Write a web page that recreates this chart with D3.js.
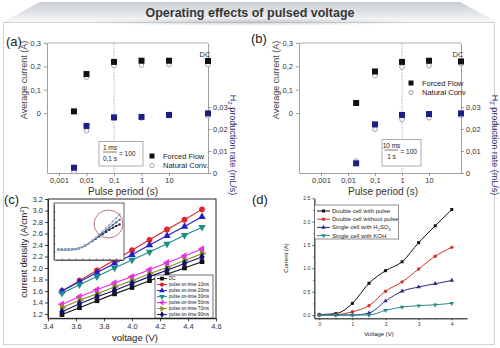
<!DOCTYPE html>
<html>
<head>
<meta charset="utf-8">
<script src="https://cdn.jsdelivr.net/npm/d3@7"></script>
<style>
body { margin: 0; background: #fff; }
svg { display: block; font-family: "Liberation Sans", Arial, sans-serif; }
</style>
</head>
<body>
<div id="chart"></div>
<script>
// Panel (a) - 1 ms on-time
var periodsA = [0.0035, 0.01, 0.1, 1, 10, "DC"];
var curForcedA = [0.007, 0.167, 0.219, 0.224, 0.224, 0.223];
var curNaturalA = [null, 0.153, 0.203, 0.205, 0.207, 0.207];
var h2ForcedA = [0.0024, 0.0214, 0.0253, 0.0255, 0.0264, 0.0271];
var h2NaturalA = [0.0006, 0.0192, 0.0248, 0.025, 0.026, 0.026];

// Panel (b) - 10 ms on-time
var periodsB = [0.02, 0.1, 1, 10, "DC"];
var curForcedB = [0.043, 0.178, 0.219, 0.224, 0.221];
var curNaturalB = [null, 0.16, 0.197, 0.203, 0.211];
var h2ForcedB = [0.0044, 0.0221, 0.0264, 0.0268, 0.0271];
var h2NaturalB = [0.0055, 0.0199, 0.0244, 0.0251, 0.0262];

var periodTicks = [0.001, 0.01, 0.1, 1, 10];
var currentTicks = [0, 0.1, 0.2, 0.3];
var h2Ticks = [0, 0.01, 0.02, 0.03];

// Panel (c) - current density vs voltage
var voltC = [3.5, 3.625, 3.75, 3.875, 4.0, 4.125, 4.25, 4.375, 4.5];
var seriesC = ["DC", "pulse on-time 10ms", "pulse on-time 20ms", "pulse on-time 30ms",
               "pulse on-time 50ms", "pulse on-time 70ms", "pulse on-time 90ms"];
var densDC   = [1.19, 1.31, 1.43, 1.55, 1.66, 1.78, 1.89, 2.00, 2.11];
var dens10ms = [1.60, 1.78, 1.96, 2.14, 2.31, 2.49, 2.67, 2.84, 3.02];
var dens20ms = [1.60, 1.76, 1.92, 2.08, 2.23, 2.40, 2.56, 2.72, 2.89];
var dens30ms = [1.56, 1.71, 1.85, 2.00, 2.14, 2.28, 2.42, 2.57, 2.71];
var dens50ms = [1.37, 1.50, 1.62, 1.74, 1.85, 1.97, 2.09, 2.21, 2.33];
var dens70ms = [1.31, 1.44, 1.55, 1.67, 1.78, 1.90, 2.01, 2.13, 2.25];
var dens90ms = [1.24, 1.38, 1.50, 1.61, 1.73, 1.85, 1.96, 2.08, 2.19];
var voltTicksC = [3.4, 3.6, 3.8, 4.0, 4.2, 4.4, 4.6];
var densTicksC = [1.2, 1.4, 1.6, 1.8, 2.0, 2.2, 2.4, 2.6, 2.8, 3.0, 3.2];

// inset of (c): full sweep
var insetV = [0.25, 0.5, 0.75, 1.0, 1.25, 1.5, 1.75, 2.0, 2.25, 2.5, 2.75, 3.0, 3.25, 3.5, 3.75, 4.0, 4.25, 4.5, 4.75];
var insetHigh = [0.6, 0.6, 0.6, 0.6, 0.61, 0.63, 0.68, 0.76, 0.88, 1.02, 1.18, 1.36, 1.55, 1.75, 1.96, 2.17, 2.39, 2.6, 2.82];
var insetMid  = [0.6, 0.6, 0.6, 0.6, 0.61, 0.63, 0.68, 0.76, 0.88, 1.01, 1.16, 1.32, 1.49, 1.66, 1.83, 2.0, 2.17, 2.33, 2.5];
var insetLow  = [0.6, 0.6, 0.6, 0.6, 0.61, 0.63, 0.68, 0.76, 0.87, 1.0, 1.14, 1.29, 1.44, 1.58, 1.72, 1.86, 1.99, 2.1, 2.2];

// Panel (d) - current vs voltage for cells
var voltD = [0, 0.5, 1, 1.5, 2, 2.5, 3, 3.5, 4];
var seriesD = ["Double cell with pulse", "Double cell without pulse", "Single cell with H2SO4", "Single cell with KOH"];
var curDoublePulse = [0.01, 0.03, 0.25, 0.68, 0.95, 1.14, 1.55, 1.91, 2.26];
var curDoubleNoPulse = [0.01, 0.01, 0.07, 0.2, 0.51, 0.71, 0.985, 1.26, 1.45];
var curSingleH2SO4 = [0.0, 0.0, 0.0, 0.04, 0.3, 0.51, 0.6, 0.67, 0.74];
var curSingleKOH = [0.0, 0.0, 0.0, 0.0, 0.1, 0.17, 0.2, 0.22, 0.25];
var voltTicksD = [0, 1, 2, 3, 4];
var curTicksD = [0, 0.5, 1.0, 1.5, 2.0, 2.5];

var W = 500, H = 348;
var svg = d3.select("#chart").append("svg")
    .attr("width", W)
    .attr("height", H);

var defs = svg.append("defs");
var grad = defs.append("linearGradient").attr("id", "banner")
    .attr("x1", 0).attr("y1", 0).attr("x2", 0).attr("y2", 1);
grad.append("stop").attr("offset", "0%").attr("stop-color", "#c9cdd3");
grad.append("stop").attr("offset", "100%").attr("stop-color", "#f7f8f9");
var shade = defs.append("radialGradient").attr("id", "shade");
shade.append("stop").attr("offset", "0%").attr("stop-color", "#9aa0a8").attr("stop-opacity", 0.55);
shade.append("stop").attr("offset", "100%").attr("stop-color", "#9aa0a8").attr("stop-opacity", 0);

// frame + banner
svg.append("rect")
    .attr("x", 3.5).attr("y", 22.5).attr("width", 491).attr("height", 322)
    .attr("fill", "#fff").attr("stroke", "#d2d2d2");
svg.append("path")
    .attr("d", "M40,2 L460,2 L497,22 L3,22 Z")
    .attr("fill", "url(#banner)");
svg.append("ellipse")
    .attr("cx", 250).attr("cy", 22).attr("rx", 170).attr("ry", 4)
    .attr("fill", "url(#shade)");
svg.append("text")
    .attr("x", 250).attr("y", 17)
    .attr("text-anchor", "middle")
    .attr("font-size", 12.5).attr("font-weight", "bold")
    .attr("fill", "#383838")
    .text("Operating effects of pulsed voltage");

function commaFmt(d) { return String(d).replace(".", ","); }

function styleAxis(sel, col, fs) {
    sel.selectAll("path, line").attr("stroke", col).attr("stroke-width", 0.8);
    sel.selectAll("text").attr("fill", "#333").attr("font-size", fs)
        .attr("font-family", "Liberation Sans, Arial, sans-serif");
}

function pulsePanel(cfg) {
    var g = svg.append("g");
    var top = 43, bottom = 173;
    var x = d3.scaleLog().domain(cfg.xDomain).range([cfg.left, cfg.right]);
    var yC = d3.scaleLinear().domain([-0.257, 0.3]).range([bottom, top]);
    var yH = d3.scaleLinear().domain([0, 0.0591]).range([bottom, top]);
    var px = function(p) { return p === "DC" ? cfg.right : x(p); };

    g.append("line")
        .attr("x1", cfg.left).attr("x2", cfg.right).attr("y1", top).attr("y2", top)
        .attr("stroke", "#999").attr("stroke-width", 0.8);
    g.append("line")
        .attr("x1", x(cfg.dotAt)).attr("x2", x(cfg.dotAt)).attr("y1", top).attr("y2", bottom)
        .attr("stroke", "#999").attr("stroke-width", 0.8).attr("stroke-dasharray", "1.2,1.2");

    g.append("g").attr("transform", "translate(" + cfg.left + ",0)")
        .call(d3.axisLeft(yC).tickValues(currentTicks).tickFormat(commaFmt).tickSize(3).tickSizeOuter(0).tickPadding(3))
        .call(styleAxis, "#888", 7.5);
    g.append("g").attr("transform", "translate(" + cfg.right + ",0)")
        .call(d3.axisRight(yH).tickValues(h2Ticks).tickFormat(commaFmt).tickSize(3).tickSizeOuter(0).tickPadding(2))
        .call(styleAxis, "#888", 7.5);
    g.append("g").attr("transform", "translate(0," + bottom + ")")
        .call(d3.axisBottom(x).tickValues(periodTicks).tickFormat(commaFmt).tickSize(3).tickSizeOuter(0).tickPadding(1.5))
        .call(styleAxis, "#888", 7.5);

    g.append("text")
        .attr("transform", "translate(" + cfg.yTitleX + ",80) rotate(-90)")
        .attr("text-anchor", "middle").attr("font-size", 9).attr("fill", "#444")
        .text("Average current (A)");
    var h2t = g.append("text")
        .attr("transform", "translate(" + cfg.h2TitleX + ",145) rotate(90)")
        .attr("text-anchor", "middle").attr("font-size", 9).attr("fill", "#2b2b78");
    h2t.append("tspan").text("H");
    h2t.append("tspan").attr("font-size", 6).attr("dy", 2).text("2");
    h2t.append("tspan").attr("dy", -2).text(" production rate (mL/s)");

    g.append("text")
        .attr("x", cfg.xTitleX).attr("y", 195)
        .attr("text-anchor", "middle").attr("font-size", 10).attr("fill", "#333")
        .text("Pulse period (s)");

    g.append("text").attr("x", cfg.right - 3).attr("y", 57)
        .attr("text-anchor", "middle").attr("font-size", 7.5).attr("fill", "#333").text("DC");

    var idx = d3.range(cfg.periods.length);
    // open circles first (behind)
    [cfg.curNat, cfg.h2Nat].forEach(function(vals, k) {
        var ys = k === 0 ? yC : yH;
        g.selectAll(null).data(idx.filter(function(i) { return vals[i] != null; }))
            .enter().append("circle")
            .attr("cx", function(i) { return px(cfg.periods[i]); })
            .attr("cy", function(i) { return ys(vals[i]); })
            .attr("r", 2.3)
            .attr("fill", "#fff").attr("stroke", "#9a9a9a").attr("stroke-width", 0.9);
    });
    [[cfg.curForced, yC, "#111"], [cfg.h2Forced, yH, "#1d1d86"]].forEach(function(s) {
        g.selectAll(null).data(idx.filter(function(i) { return s[0][i] != null; }))
            .enter().append("rect")
            .attr("x", function(i) { return px(cfg.periods[i]) - 3; })
            .attr("y", function(i) { return s[1](s[0][i]) - 3; })
            .attr("width", 6).attr("height", 6)
            .attr("fill", s[2]);
    });

    // ratio box
    var b = cfg.ratio;
    g.append("rect").attr("x", b.x).attr("y", b.y).attr("width", b.w).attr("height", b.h)
        .attr("fill", "#fff").attr("stroke", "#999").attr("stroke-width", 0.8);
    g.append("text").attr("x", b.fx).attr("y", b.y + 8.5).attr("text-anchor", "middle")
        .attr("font-size", 6.5).attr("fill", "#222").text(b.num);
    g.append("line").attr("x1", b.fx - 7).attr("x2", b.fx + 7).attr("y1", b.y + 10.5).attr("y2", b.y + 10.5)
        .attr("stroke", "#222").attr("stroke-width", 0.6);
    g.append("text").attr("x", b.fx).attr("y", b.y + 19).attr("text-anchor", "middle")
        .attr("font-size", 6.5).attr("fill", "#222").text(b.den);
    g.append("text").attr("x", b.fx + 9).attr("y", b.y + 14).attr("font-size", 6.5).attr("fill", "#222").text("= 100");

    // legend
    var L = cfg.legend;
    g.append("rect").attr("x", L.x - 2.5).attr("y", L.y - 2.5).attr("width", 5).attr("height", 5).attr("fill", "#111");
    g.append("circle").attr("cx", L.x).attr("cy", L.y + 9.5).attr("r", 2.2)
        .attr("fill", "#fff").attr("stroke", "#9a9a9a").attr("stroke-width", 0.9);
    g.append("text").attr("x", L.x + 11).attr("y", L.y + 2.5).attr("font-size", 7.5).attr("fill", "#222").text("Forced Flow");
    g.append("text").attr("x", L.x + 11).attr("y", L.y + 12).attr("font-size", 7.5).attr("fill", "#222").text(L.nat);

    svg.append("text").attr("x", cfg.labX).attr("y", cfg.labY)
        .attr("font-size", 13).attr("fill", "#222").text(cfg.label);
}

pulsePanel({
    label: "(a)", labX: 6, labY: 46,
    left: 47, right: 208, xDomain: [Math.pow(10, -3.436), Math.pow(10, 2.418)], dotAt: 0.1,
    periods: periodsA, curForced: curForcedA, curNat: curNaturalA, h2Forced: h2ForcedA, h2Nat: h2NaturalA,
    yTitleX: 27, h2TitleX: 230, xTitleX: 123,
    ratio: { x: 99, y: 141.5, w: 44, h: 24.5, fx: 110, num: "1 ms", den: "0,1 s" },
    legend: { x: 152, y: 156, nat: "Natural Conv." }
});
pulsePanel({
    label: "(b)", labX: 251, labY: 43,
    left: 299, right: 461, xDomain: [Math.pow(10, -3.815), Math.pow(10, 2.185)], dotAt: 1,
    periods: periodsB, curForced: curForcedB, curNat: curNaturalB, h2Forced: h2ForcedB, h2Nat: h2NaturalB,
    yTitleX: 279, h2TitleX: 492, xTitleX: 383,
    ratio: { x: 382, y: 139.5, w: 39, h: 26.5, fx: 391.5, num: "10 ms", den: "1 s" },
    legend: { x: 411, y: 83, nat: "Natural Conv" }
});

// ---------- panel (c) ----------
var gc = svg.append("g");
var xC = d3.scaleLinear().domain([3.4, 4.6]).range([48, 216]);
var yCd = d3.scaleLinear().domain([1.125, 3.2]).range([318.3, 199]);
var colorsC = ["#111111", "#e3232b", "#2020c8", "#1a8c8c", "#e830e8", "#8c8c22", "#10106a"];
var valsC = [densDC, dens10ms, dens20ms, dens30ms, dens50ms, dens70ms, dens90ms];
var shapesC = [
    { t: d3.symbolSquare, r: 0, s: 22 },
    { t: d3.symbolCircle, r: 0, s: 26 },
    { t: d3.symbolTriangle, r: 0, s: 24 },
    { t: d3.symbolTriangle, r: 180, s: 24 },
    { t: d3.symbolTriangle, r: -90, s: 24 },
    { t: d3.symbolTriangle, r: 90, s: 24 },
    { t: d3.symbolDiamond, r: 0, s: 24 }
];

gc.append("rect").attr("x", 48).attr("y", 199).attr("width", 168).attr("height", 119.3)
    .attr("fill", "none").attr("stroke", "#111").attr("stroke-width", 0.9);
gc.append("g").attr("transform", "translate(48,0)")
    .call(d3.axisLeft(yCd).tickValues(densTicksC).tickFormat(d3.format(".1f")).tickSize(3).tickSizeOuter(0).tickPadding(2))
    .call(styleAxis, "#111", 7.5);
gc.append("g").attr("transform", "translate(0,318.3)")
    .call(d3.axisBottom(xC).tickValues(voltTicksC).tickFormat(d3.format(".1f")).tickSize(3).tickSizeOuter(0).tickPadding(2))
    .call(styleAxis, "#111", 7.5);
var yt = gc.append("text").attr("transform", "translate(27,252) rotate(-90)")
    .attr("text-anchor", "middle").attr("font-size", 9).attr("fill", "#222");
yt.append("tspan").text("current density (A/cm");
yt.append("tspan").attr("font-size", 6).attr("dy", -3).text("2");
yt.append("tspan").attr("dy", 3).text(")");
gc.append("text").attr("x", 135).attr("y", 341).attr("text-anchor", "middle")
    .attr("font-size", 9.5).attr("fill", "#222").text("voltage (V)");

var lineC = d3.line().x(function(d) { return xC(d[0]); }).y(function(d) { return yCd(d[1]); });
valsC.forEach(function(vals, k) {
    var pts = voltC.map(function(v, i) { return [v, vals[i]]; });
    gc.append("path").attr("d", lineC(pts)).attr("fill", "none")
        .attr("stroke", colorsC[k]).attr("stroke-width", 1.1);
    var sh = shapesC[k];
    gc.selectAll(null).data(pts).enter().append("path")
        .attr("d", d3.symbol().type(sh.t).size(sh.s))
        .attr("transform", function(d) { return "translate(" + xC(d[0]) + "," + yCd(d[1]) + ") rotate(" + sh.r + ")"; })
        .attr("fill", colorsC[k]);
});

// legend (c)
gc.append("rect").attr("x", 155).attr("y", 275).attr("width", 58).attr("height", 43)
    .attr("fill", "#fff").attr("stroke", "#111").attr("stroke-width", 0.6);
seriesC.forEach(function(name, k) {
    var ly = 278.6 + k * 6;
    gc.append("line").attr("x1", 157).attr("x2", 167).attr("y1", ly).attr("y2", ly)
        .attr("stroke", colorsC[k]).attr("stroke-width", 1);
    var sh = shapesC[k];
    gc.append("path").attr("d", d3.symbol().type(sh.t).size(14))
        .attr("transform", "translate(162," + ly + ") rotate(" + sh.r + ")")
        .attr("fill", colorsC[k]);
    gc.append("text").attr("x", 169).attr("y", ly + 1.6).attr("font-size", 4.6).attr("fill", "#111").text(name);
});

// inset (c)
var xI = d3.scaleLinear().domain([0, 5]).range([55, 123]);
var yI = d3.scaleLinear().domain([0, 3.5]).range([259, 204]);
gc.append("rect").attr("x", 54).attr("y", 203).attr("width", 70).attr("height", 57)
    .attr("fill", "#fff").attr("stroke", "#222").attr("stroke-width", 0.7);
gc.append("g").attr("transform", "translate(54,0)")
    .call(d3.axisRight(yI).tickValues([0.5, 1, 1.5, 2, 2.5, 3]).tickSize(1.5).tickSizeOuter(0).tickFormat(""))
    .call(styleAxis, "#444", 2.5);
gc.append("g").attr("transform", "translate(0,260)")
    .call(d3.axisTop(xI).tickValues([0.5, 1, 1.5, 2, 2.5, 3, 3.5, 4, 4.5]).tickSize(1.5).tickSizeOuter(0).tickFormat(""))
    .call(styleAxis, "#444", 2.5);
var lineI = d3.line().x(function(d) { return xI(d[0]); }).y(function(d) { return yI(d[1]); });
[[insetLow, "#1a1a4a"], [insetMid, "#5a5a8a"], [insetHigh, "#8ab0d0"]].forEach(function(s) {
    var pts = insetV.map(function(v, i) { return [v, s[0][i]]; });
    gc.append("path").attr("d", lineI(pts)).attr("fill", "none").attr("stroke", s[1]).attr("stroke-width", 0.9);
    gc.selectAll(null).data(pts).enter().append("rect")
        .attr("x", function(d) { return xI(d[0]) - 1; })
        .attr("y", function(d) { return yI(d[1]) - 1; })
        .attr("width", 2).attr("height", 2).attr("fill", s[1]);
});
gc.append("ellipse").attr("cx", 108.5).attr("cy", 224).attr("rx", 14.5).attr("ry", 14)
    .attr("fill", "none").attr("stroke", "#a55565").attr("stroke-width", 0.8);

svg.append("text").attr("x", 4).attr("y", 204).attr("font-size", 13).attr("fill", "#222").text("(c)");

// ---------- panel (d) ----------
var gd = svg.append("g");
var xD = d3.scaleLinear().domain([-0.15, 4.46]).range([314.3, 467]);
var yD = d3.scaleLinear().domain([-0.07, 2.5]).range([318.3, 198.3]);
var colorsD = ["#111111", "#d2302c", "#2c2c88", "#2a8a86"];
var valsD = [curDoublePulse, curDoubleNoPulse, curSingleH2SO4, curSingleKOH];
var shapesD = [
    { t: d3.symbolSquare, r: 0 },
    { t: d3.symbolCircle, r: 0 },
    { t: d3.symbolTriangle, r: 0 },
    { t: d3.symbolTriangle, r: 180 }
];

gd.append("g").attr("transform", "translate(314.3,0)")
    .call(d3.axisLeft(yD).tickValues(curTicksD).tickFormat(d3.format(".1f")).tickSize(2).tickSizeOuter(0).tickPadding(2))
    .call(styleAxis, "#333", 5);
gd.append("g").attr("transform", "translate(314.3,0)")
    .call(d3.axisLeft(yD).tickValues([0.25, 0.75, 1.25, 1.75, 2.25]).tickSize(1).tickSizeOuter(0).tickFormat(""))
    .call(styleAxis, "#333", 5);
gd.append("g").attr("transform", "translate(0,318.3)")
    .call(d3.axisBottom(xD).tickValues(voltTicksD).tickFormat(d3.format("d")).tickSize(2).tickSizeOuter(0).tickPadding(2))
    .call(styleAxis, "#333", 5);
gd.append("g").attr("transform", "translate(0,318.3)")
    .call(d3.axisBottom(xD).tickValues([0.5, 1.5, 2.5, 3.5]).tickSize(1).tickSizeOuter(0).tickFormat(""))
    .call(styleAxis, "#333", 5);
gd.append("text").attr("transform", "translate(288,258) rotate(-90)")
    .attr("text-anchor", "middle").attr("font-size", 6).attr("fill", "#222").text("Current (A)");
gd.append("text").attr("x", 379).attr("y", 336).attr("text-anchor", "middle")
    .attr("font-size", 6).attr("fill", "#222").text("Voltage (V)");

var lineD = d3.line().curve(d3.curveMonotoneX)
    .x(function(d) { return xD(d[0]); }).y(function(d) { return yD(d[1]); });
valsD.forEach(function(vals, k) {
    var pts = voltD.map(function(v, i) { return [v, vals[i]]; });
    gd.append("path").attr("d", lineD(pts)).attr("fill", "none")
        .attr("stroke", colorsD[k]).attr("stroke-width", 1);
    gd.selectAll(null).data(pts).enter().append("path")
        .attr("d", d3.symbol().type(shapesD[k].t).size(9))
        .attr("transform", function(d) { return "translate(" + xD(d[0]) + "," + yD(d[1]) + ") rotate(" + shapesD[k].r + ")"; })
        .attr("fill", colorsD[k]);
});

// legend (d)
gd.append("rect").attr("x", 314.5).attr("y", 205).attr("width", 84).attr("height", 34)
    .attr("fill", "#fff").attr("stroke", "#444").attr("stroke-width", 0.6);
seriesD.forEach(function(name, k) {
    var ly = 211 + k * 8.2;
    gd.append("line").attr("x1", 317).attr("x2", 330).attr("y1", ly).attr("y2", ly)
        .attr("stroke", colorsD[k]).attr("stroke-width", 1);
    gd.append("path").attr("d", d3.symbol().type(shapesD[k].t).size(9))
        .attr("transform", "translate(323.5," + ly + ") rotate(" + shapesD[k].r + ")")
        .attr("fill", colorsD[k]);
    var t = gd.append("text").attr("x", 332).attr("y", ly + 2).attr("font-size", 6).attr("fill", "#222");
    if (name.indexOf("H2SO4") >= 0) {
        t.append("tspan").text("Single cell with H");
        t.append("tspan").attr("font-size", 4).attr("dy", 1.2).text("2");
        t.append("tspan").attr("dy", -1.2).text("SO");
        t.append("tspan").attr("font-size", 4).attr("dy", 1.2).text("4");
    } else {
        t.text(name);
    }
});

svg.append("text").attr("x", 252).attr("y", 204).attr("font-size", 13).attr("fill", "#222").text("(d)");
</script>
</body>
</html>
